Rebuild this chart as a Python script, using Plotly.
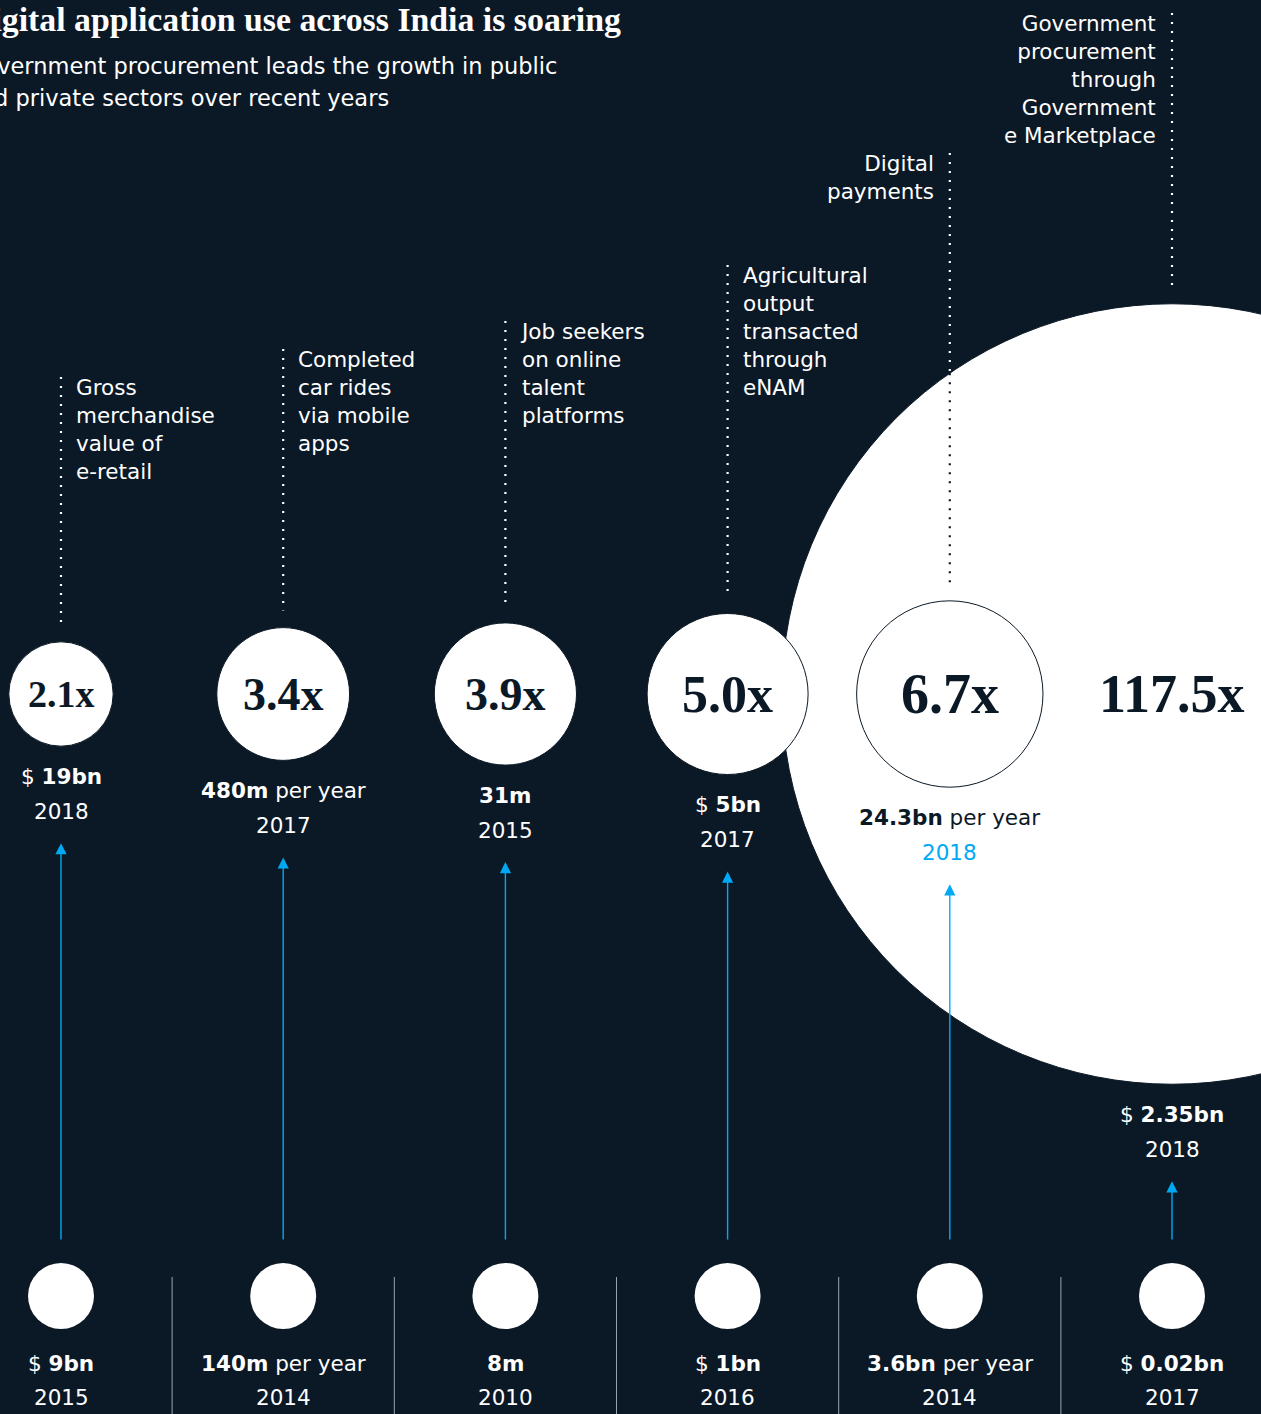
import math
import plotly.graph_objects as go

# --- data ---------------------------------------------------------------
labels = [
    ["Gross", "merchandise", "value of", "e-retail"],
    ["Completed", "car rides", "via mobile", "apps"],
    ["Job seekers", "on online", "talent", "platforms"],
    ["Agricultural", "output", "transacted", "through", "eNAM"],
    ["Digital", "payments"],
    ["Government", "procurement", "through", "Government", "e Marketplace"],
]
currency = ["$", "", "", "$", "", "$"]
before_value = ["9bn", "140m", "8m", "1bn", "3.6bn", "0.02bn"]
after_value = ["19bn", "480m", "31m", "5bn", "24.3bn", "2.35bn"]
unit = ["", "per year", "", "", "per year", ""]
before_year = ["2015", "2014", "2010", "2016", "2014", "2017"]
after_year = ["2018", "2017", "2015", "2017", "2018", "2018"]
growth = [2.1, 3.4, 3.9, 5.0, 6.7, 117.5]

title = "Digital application use across India is soaring"
subtitle = ["Government procurement leads the growth in public",
            "and private sectors over recent years"]

# --- style / layout -----------------------------------------------------
W, H = 1261, 1414
bg = "#0b1926"
navy = "#0b1926"
cyan = "#00a9f4"
white = "#ffffff"
sans = "DejaVu Sans"
serif = "Liberation Serif"

col0, col_gap = 61, 222.2
xs = [col0 + i * col_gap for i in range(len(growth))]
top_y = 694          # row of the growth circles
base_y = 1296        # row of the starting circles
unit_r = 36          # radius of a 1x circle (area scaled)
base_r = 33
label_top = [387, 359, 331, 275, 163, 23]
label_left = [False, False, False, False, True, True]
num_size = [38, 46, 46, 52, 56, 54]
line_h = 28
fs = 21.5

radii = [unit_r * math.sqrt(g) for g in growth]
big = growth.index(max(growth))
bx, by, br = xs[big], top_y, radii[big]


def inside_big(x, y):
    return (x - bx) ** 2 + (y - by) ** 2 < br ** 2


def value_text(i, val):
    t = f"<b>{val}</b>"
    if currency[i]:
        t = currency[i] + " " + t
    if unit[i]:
        t = t + " " + unit[i]
    return t


fig = go.Figure()
shapes = []
ann = []

# circles, largest first so the small ones sit on top
for i in sorted(range(len(growth)), key=lambda k: -growth[k]):
    r = radii[i]
    shapes.append(dict(type="circle", xref="x", yref="y",
                       x0=xs[i] - r, x1=xs[i] + r, y0=top_y - r, y1=top_y + r,
                       fillcolor=white, line=dict(color=navy, width=1), layer="above"))
    ann.append(dict(x=xs[i], y=top_y, text=f"{growth[i]:.1f}x", showarrow=False,
                    font=dict(family=serif, size=num_size[i], color=navy, weight="bold"),
                    xanchor="center", yanchor="middle"))

for i in range(len(growth)):
    x = xs[i]
    r = radii[i]

    # starting circle + values
    shapes.append(dict(type="circle", xref="x", yref="y",
                       x0=x - base_r, x1=x + base_r, y0=base_y - base_r, y1=base_y + base_r,
                       fillcolor=white, line=dict(color=white, width=0), layer="above"))
    ann.append(dict(x=x, y=base_y + base_r + 34, text=value_text(i, before_value[i]),
                    showarrow=False, font=dict(family=sans, size=fs, color=white)))
    ann.append(dict(x=x, y=base_y + base_r + 68, text=before_year[i],
                    showarrow=False, font=dict(family=sans, size=fs, color=white)))

    # end values
    vy = top_y + r + 30
    on_white = inside_big(x, vy)
    ann.append(dict(x=x, y=vy, text=value_text(i, after_value[i]), showarrow=False,
                    font=dict(family=sans, size=fs, color=navy if on_white else white)))
    ann.append(dict(x=x, y=vy + 35, text=after_year[i], showarrow=False,
                    font=dict(family=sans, size=fs, color=cyan if on_white else white)))

    # growth arrow
    ann.append(dict(x=x, y=vy + 67, ax=x, ay=base_y - 55, xref="x", yref="y",
                    axref="x", ayref="y", text="", showarrow=True,
                    arrowhead=2, arrowsize=1.6, arrowwidth=1.4, arrowcolor=cyan, standoff=0))

    # dotted leader line, dark where it crosses the big circle
    d0, d1 = label_top[i] - 10, top_y - r - 17
    split = d1
    if i != big and abs(x - bx) < br:
        split = max(d0, by - math.sqrt(br ** 2 - (x - bx) ** 2))
    shapes.append(dict(type="line", xref="x", yref="y", x0=x, x1=x, y0=d0, y1=split,
                       line=dict(color=white, width=2.2, dash="2px,7px"), layer="above"))
    if split < d1:
        shapes.append(dict(type="line", xref="x", yref="y", x0=x, x1=x, y0=split, y1=d1,
                           line=dict(color=navy, width=2.2, dash="2px,7px"), layer="above"))

    # category label
    n = len(labels[i])
    ann.append(dict(x=x - 14 if label_left[i] else x + 13,
                    y=label_top[i] + (n - 1) * line_h / 2,
                    text="<br>".join(labels[i]), showarrow=False,
                    xanchor="right" if label_left[i] else "left",
                    align="right" if label_left[i] else "left",
                    yanchor="middle",
                    font=dict(family=sans, size=fs, color=white)))

    # column separators
    if i < len(growth) - 1:
        sx = (xs[i] + xs[i + 1]) / 2
        shapes.append(dict(type="line", xref="x", yref="y", x0=sx, x1=sx, y0=1277, y1=H,
                           line=dict(color="#9aa3ad", width=1)))

# title and subtitle, left edge cut off as in the source
ann.append(dict(x=0, y=19, xshift=-34, text=title, showarrow=False,
                xanchor="left", yanchor="middle",
                font=dict(family=serif, size=33.8, color=white, weight="bold")))
for k, line in enumerate(subtitle):
    ann.append(dict(x=0, y=66 + 32 * k, xshift=-36, text=line, showarrow=False,
                    xanchor="left", yanchor="middle",
                    font=dict(family=sans, size=22.5, color=white)))

fig.update_layout(
    width=W, height=H,
    margin=dict(l=0, r=0, t=0, b=0),
    paper_bgcolor=bg, plot_bgcolor=bg,
    showlegend=False,
    shapes=shapes,
    annotations=ann,
    xaxis=dict(range=[0, W], visible=False, fixedrange=True),
    yaxis=dict(range=[H, 0], visible=False, fixedrange=True),
)

fig.write_html("out.html", config={"displayModeBar": False},
               post_script="document.body.style.margin='0';document.body.style.overflow='hidden';")
